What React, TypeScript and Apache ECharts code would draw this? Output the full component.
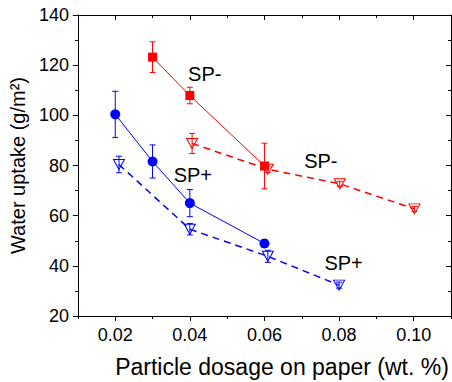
import React, { useEffect, useRef } from "react";
import * as echarts from "echarts";

// ---- data ----
const redSolidX = [0.03, 0.04, 0.06];
const redSolidY = [123.2, 107.9, 79.8];
const redSolidErr = [6.1, 3.3, 9.1];

const blueSolidX = [0.02, 0.03, 0.04, 0.06];
const blueSolidY = [100.4, 81.6, 65.0, 48.9];
const blueSolidErr = [9.2, 6.6, 5.4, 1.5];

const redDashX = [0.0406, 0.0609, 0.0802, 0.1002];
const redDashY = [88.8, 78.5, 72.7, 62.7];
const redDashErr = [4.0, 1.2, 1.0, 1.0];

const blueDashX = [0.021, 0.04, 0.0609, 0.08];
const blueDashY = [80.4, 54.6, 43.8, 32.3];
const blueDashErr = [3.3, 2.3, 2.4, 1.2];

const xMajorTicks = [0.02, 0.04, 0.06, 0.08, 0.1];
const xMinorTicks = [0.01, 0.03, 0.05, 0.07, 0.09, 0.11];

const annoText = ["SP-", "SP+", "SP-", "SP+"];
const annoX = [0.044, 0.0408, 0.0751, 0.0812];
const annoY = [116.5, 76.2, 81.6, 41.2];

const xTitle = "Particle dosage on paper (wt. %)";
const yTitle = "Water uptake (g/m²)";

const RED = "#ff0000";
const BLUE = "#0000ff";
const FONT = '"Liberation Sans", Arial, sans-serif';

const zip = (xs: number[], ys: number[]) => xs.map((x, i) => [x, ys[i]]);
const zip3 = (xs: number[], ys: number[], es: number[]) =>
  xs.map((x, i) => [x, ys[i], es[i]]);

function errSeries(xs: number[], ys: number[], es: number[], color: string) {
  return {
    type: "custom",
    xAxisIndex: 0,
    yAxisIndex: 0,
    z: 1,
    silent: true,
    data: zip3(xs, ys, es),
    renderItem: (params: any, api: any) => {
      const x = api.value(0);
      const y = api.value(1);
      const e = api.value(2);
      const top = api.coord([x, y + e]);
      const bot = api.coord([x, y - e]);
      const hw = 3;
      const style = { stroke: color, lineWidth: 1, fill: "none" };
      return {
        type: "group",
        children: [
          { type: "line", shape: { x1: top[0], y1: top[1], x2: bot[0], y2: bot[1] }, style },
          { type: "line", shape: { x1: top[0] - hw, y1: top[1], x2: top[0] + hw, y2: top[1] }, style },
          { type: "line", shape: { x1: bot[0] - hw, y1: bot[1], x2: bot[0] + hw, y2: bot[1] }, style },
        ],
      };
    },
  };
}

export default function App() {
  const ref = useRef<HTMLDivElement>(null);
  useEffect(() => {
    if (!ref.current) return;
    const chart = echarts.init(ref.current, null, { renderer: "svg" });
    const axisLine = { show: true, lineStyle: { color: "#000", width: 1 } };
    const xBase = {
      type: "value",
      min: 0.01,
      max: 0.11,
      splitLine: { show: false },
      axisLine,
    };
    const yBase = {
      type: "value",
      min: 20,
      max: 140,
      interval: 20,
      splitLine: { show: false },
      axisLine,
    };
    chart.setOption({
      animation: false,
      backgroundColor: "#fff",
      grid: { left: 77, right: 1, top: 15, bottom: 66 },
      xAxis: [
        {
          ...xBase,
          position: "bottom",
          axisTick: { show: true, customValues: xMajorTicks, length: 5, lineStyle: { color: "#000" } },
          axisLabel: {
            show: true,
            customValues: xMajorTicks,
            formatter: (v: number) => v.toFixed(2),
            color: "#000",
            fontSize: 18,
            fontFamily: FONT,
            margin: 10,
          },
        },
        {
          ...xBase,
          position: "bottom",
          axisTick: { show: true, customValues: xMinorTicks, length: 3, lineStyle: { color: "#000" } },
          axisLabel: { show: false },
        },
        {
          ...xBase,
          position: "top",
          axisTick: { show: true, inside: true, customValues: xMajorTicks, length: 5, lineStyle: { color: "#000" } },
          axisLabel: { show: false },
        },
        {
          ...xBase,
          position: "top",
          axisTick: { show: true, inside: true, customValues: xMinorTicks, length: 3, lineStyle: { color: "#000" } },
          axisLabel: { show: false },
        },
      ],
      yAxis: [
        {
          ...yBase,
          position: "left",
          axisTick: { show: true, length: 5, lineStyle: { color: "#000" } },
          minorTick: { show: true, splitNumber: 2, length: 3, lineStyle: { color: "#000" } },
          axisLabel: { color: "#000", fontSize: 18, fontFamily: FONT, margin: 9 },
          name: yTitle,
          nameLocation: "middle",
          nameGap: 46,
          nameTextStyle: { color: "#000", fontSize: 20, fontFamily: FONT },
        },
        {
          ...yBase,
          position: "right",
          axisTick: { show: true, inside: true, length: 5, lineStyle: { color: "#000" } },
          minorTick: { show: true, splitNumber: 2, length: 3, lineStyle: { color: "#000" } },
          axisLabel: { show: false },
        },
      ],
      graphic: [
        {
          type: "text",
          x: 282,
          y: 367,
          style: {
            text: xTitle,
            fill: "#000",
            fontSize: 23,
            fontFamily: FONT,
            textAlign: "center",
            textVerticalAlign: "middle",
            verticalAlign: "middle",
          },
        },
      ],
      series: [
        errSeries(redSolidX, redSolidY, redSolidErr, RED),
        errSeries(blueSolidX, blueSolidY, blueSolidErr, BLUE),
        errSeries(redDashX, redDashY, redDashErr, RED),
        errSeries(blueDashX, blueDashY, blueDashErr, BLUE),
        {
          type: "line",
          name: "SP- solid",
          z: 3,
          data: zip(redSolidX, redSolidY),
          symbol: "rect",
          symbolSize: 9,
          lineStyle: { color: RED, width: 1 },
          itemStyle: { color: RED },
        },
        {
          type: "line",
          name: "SP+ solid",
          z: 3,
          data: zip(blueSolidX, blueSolidY),
          symbol: "circle",
          symbolSize: 10,
          lineStyle: { color: BLUE, width: 1 },
          itemStyle: { color: BLUE },
        },
        {
          type: "line",
          name: "SP- dashed",
          z: 4,
          data: zip(redDashX, redDashY),
          symbol: "triangle",
          symbolRotate: 180,
          symbolSize: [11, 10],
          lineStyle: { color: RED, width: 1.5, type: [7, 5] },
          itemStyle: { color: "rgba(255,255,255,0)", borderColor: RED, borderWidth: 1 },
        },
        {
          type: "line",
          name: "SP+ dashed",
          z: 4,
          data: zip(blueDashX, blueDashY),
          symbol: "triangle",
          symbolRotate: 180,
          symbolSize: [11, 10],
          lineStyle: { color: BLUE, width: 1.5, type: [7, 5] },
          itemStyle: { color: "rgba(255,255,255,0)", borderColor: BLUE, borderWidth: 1 },
        },
        {
          type: "scatter",
          z: 5,
          silent: true,
          symbolSize: 1,
          itemStyle: { color: "rgba(0,0,0,0)", opacity: 1 },
          data: annoX.map((x, i) => [x, annoY[i], annoText[i]]),
          label: {
            show: true,
            position: "inside",
            formatter: (p: any) => p.value[2],
            color: "#000",
            opacity: 1,
            textBorderWidth: 0,
            fontSize: 20,
            fontFamily: FONT,
          },
        },
      ],
    });
    return () => chart.dispose();
  }, []);
  return (
    <div
      ref={ref}
      style={{ position: "fixed", left: 0, top: 0, width: 452, height: 382, background: "#fff" }}
    />
  );
}
